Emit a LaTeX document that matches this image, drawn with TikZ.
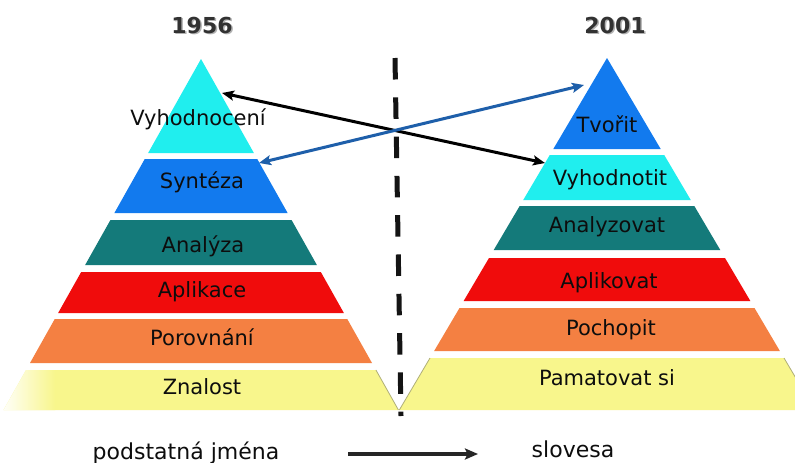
\documentclass[tikz,border=0pt]{standalone}
\usepackage{fontspec}
\setmainfont{DejaVu Sans}
\usetikzlibrary{arrows.meta}
\definecolor{cyanb}{RGB}{32,238,238}
\definecolor{blueb}{RGB}{18,122,238}
\definecolor{tealb}{RGB}{20,122,122}
\definecolor{redb}{RGB}{240,12,12}
\definecolor{orangeb}{RGB}{244,128,66}
\definecolor{yellowb}{RGB}{248,246,140}
\definecolor{arrblue}{RGB}{30,95,170}
\definecolor{edgeol}{RGB}{175,175,120}
\definecolor{titlec}{RGB}{50,50,50}
\newcommand\pyrband[6]{\fill[#6] ({#1-#3*(#4-#2)},#4) -- ({#1+#3*(#4-#2)},#4) -- ({#1+#3*(#5-#2)},#5) -- ({#1-#3*(#5-#2)},#5) -- cycle;}
\begin{document}
\begin{tikzpicture}[x=1pt,y=-1pt,
  lbl/.style={font=\fontsize{21}{25}\selectfont, anchor=base, inner sep=0pt, text=black!95},
  btxt/.style={font=\fontsize{22}{26}\selectfont, anchor=base, inner sep=0pt, text=black!95},
  yeartxt/.style={font=\fontsize{22}{26}\selectfont\bfseries, anchor=base, inner sep=0pt, text=titlec},
  yearshadow/.style={font=\fontsize{22}{26}\selectfont\bfseries, anchor=base, inner sep=0pt, text=black!30},
  link/.style={line width=3pt, {Stealth[length=12pt,width=10pt,inset=2.5pt]}-{Stealth[length=12pt,width=10pt,inset=2.5pt]}},
  divider/.style={line width=5pt, color=black!92, dash pattern=on 21.5pt off 17.8pt},
  dirarrow/.style={line width=3.2pt, color=black!85, -{Stealth[length=13pt,width=11pt,inset=2.5pt]}},
  olive/.style={draw=edgeol, line width=0.8pt}]
\useasboundingbox (0,0) rectangle (795,463);
\clip (0,0) rectangle (795,463);
\fill[white] (0,0) rectangle (795,463);

% ---------- left pyramid (1956) ----------
\fill[cyanb] (201,59) -- ({201+0.5625*(153-59)},153) -- ({201-0.5625*(153-59)},153) -- cycle;
\pyrband{201}{59}{0.5625}{159}{213}{blueb}
\pyrband{201}{59}{0.5625}{220}{265}{tealb}
\pyrband{201}{59}{0.5625}{272}{313}{redb}
\pyrband{201}{59}{0.5625}{319}{363}{orangeb}
\pyrband{201}{59}{0.5625}{370}{410}{yellowb}
\begin{scope}
  \clip ({201-0.5625*(370-59)},370) -- ({201+0.5625*(370-59)},370) -- ({201+0.5625*(410-59)},410) -- ({201-0.5625*(410-59)},410) -- cycle;
  \shade[left color=white, right color=yellowb] (0,365) rectangle (55,415);
\end{scope}
\draw[olive] ({201+0.5625*(370-59)},370) -- ({201+0.5625*(410-59)},410);

% ---------- right pyramid (2001) ----------
\fill[blueb] (607,58) -- ({607+0.59*(149-58)},149) -- ({607-0.59*(149-58)},149) -- cycle;
\pyrband{607}{58}{0.59}{155}{200}{cyanb}
\pyrband{607}{58}{0.59}{206}{250}{tealb}
\pyrband{607}{58}{0.59}{258}{301}{redb}
\pyrband{607}{58}{0.59}{308}{351}{orangeb}
\pyrband{607}{58}{0.59}{358}{410}{yellowb}
\draw[olive] ({607-0.59*(358-58)},358) -- ({607-0.59*(410-58)},410);
\draw[olive] ({607+0.59*(358-58)},358) -- ({607+0.59*(410-58)},410);

% ---------- titles ----------
\node[yearshadow] (y1956s) at (203.5,34.5) {1956};
\node[yeartxt] (y1956) at (202,33) {1956};
\node[yearshadow] (y2001s) at (616.5,34.5) {2001};
\node[yeartxt] (y2001) at (615,33) {2001};

% ---------- labels left ----------
\node[lbl] (vyhodnoceni) at (198,125) {Vyhodnocení};
\node[lbl] (synteza) at (202,188.5) {Syntéza};
\node[lbl] (analyza) at (203,252.5) {Analýza};
\node[lbl] (aplikace) at (202,297.5) {Aplikace};
\node[lbl] (porovnani) at (202,345.5) {Porovnání};
\node[lbl] (znalost) at (202,394.5) {Znalost};

% ---------- labels right ----------
\node[lbl] (tvorit) at (607,132.5) {Tvořit};
\node[lbl] (vyhodnotit) at (610,185.5) {Vyhodnotit};
\node[lbl] (analyzovat) at (607,232.5) {Analyzovat};
\node[lbl] (aplikovat) at (609,288.5) {Aplikovat};
\node[lbl] (pochopit) at (611,335.5) {Pochopit};
\node[lbl] (pamatovat) at (607,385.5) {Pamatovat si};

% ---------- divider ----------
\coordinate (divtop) at (395,58);
\coordinate (divbot) at (401,416);
\draw[divider] (divtop) -- (divbot);

% ---------- cross links ----------
\coordinate (evalL) at (222,93);
\coordinate (evalR) at (545,163);
\coordinate (synL) at (259,163);
\coordinate (creR) at (584,85);
\draw[link, color=black] (evalL) -- (evalR);
\draw[link, color=arrblue] (synL) -- (creR);

% ---------- bottom ----------
\node[btxt] (nouns) at (186,459) {podstatná jména};
\node[btxt] (verbs) at (573,457) {slovesa};
\coordinate (dirA) at (348,454);
\coordinate (dirB) at (478,454);
\draw[dirarrow] (dirA) -- (dirB);
\end{tikzpicture}
\end{document}
